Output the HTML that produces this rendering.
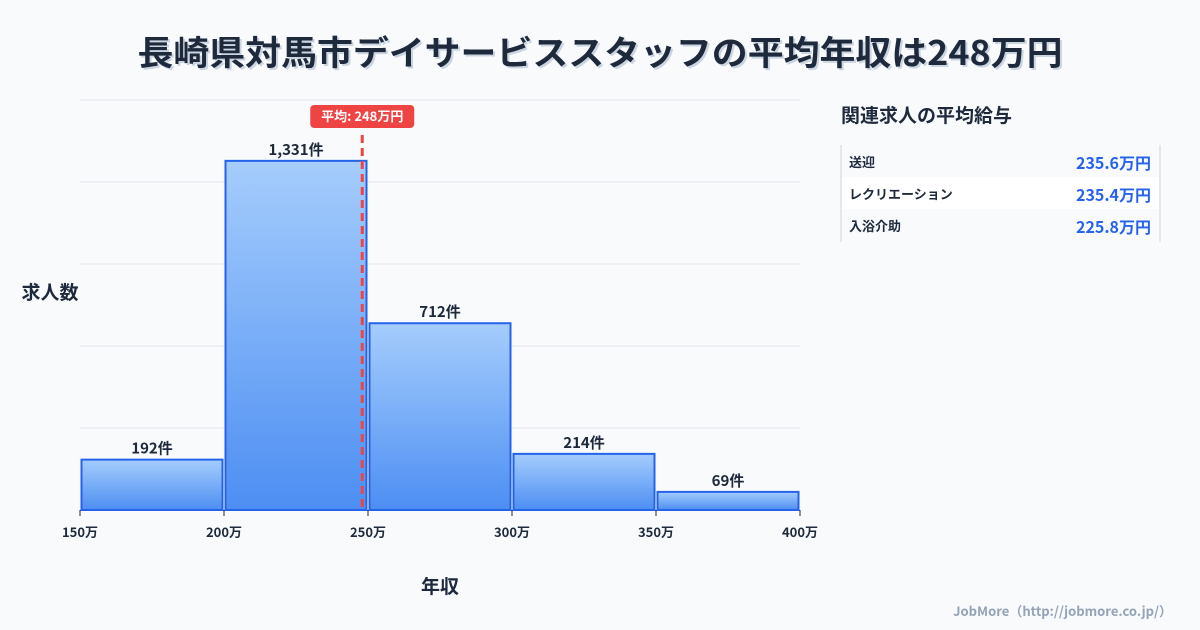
<!DOCTYPE html>
<html><head><meta charset="utf-8"><style>
body{margin:0;background:#f8fafc;font-family:"Noto Sans CJK JP","Liberation Sans",sans-serif;}
</style></head><body>
<svg width="1200" height="630" viewBox="0 0 1200 630" xmlns="http://www.w3.org/2000/svg" style="display:block;font-family:'Noto Sans CJK JP','Liberation Sans',sans-serif">
<defs><linearGradient id="g" x1="0" y1="0" x2="0" y2="1"><stop offset="0" stop-color="#a5cdfc"/><stop offset="1" stop-color="#4d8ef3"/></linearGradient></defs>
<rect width="1200" height="630" fill="#f8fafc"/>
<text x="602" y="67" text-anchor="middle" font-size="34" font-weight="bold" fill="#cbd5e1" textLength="925" lengthAdjust="spacingAndGlyphs">長崎県対馬市デイサービススタッフの平均年収は248万円</text>
<text x="600" y="65" text-anchor="middle" font-size="34" font-weight="bold" fill="#1e293b" textLength="925" lengthAdjust="spacingAndGlyphs">長崎県対馬市デイサービススタッフの平均年収は248万円</text>
<g id="grid"></g><g id="bars"></g><g id="xt"></g>
<text x="50" y="299" text-anchor="middle" font-size="19" font-weight="bold" fill="#1e293b">求人数</text>
<text x="440" y="593" text-anchor="middle" font-size="19" font-weight="bold" fill="#1e293b">年収</text>
<g id="avg"></g>
<text x="841" y="122" font-size="19" font-weight="bold" fill="#1e293b">関連求人の平均給与</text>
<g id="side"></g>
<text x="1172" y="616" text-anchor="end" font-size="13" font-weight="bold" fill="#94a3b8">JobMore（http://jobmore.co.jp/）</text>
</svg>
<script>
const binStarts=[150,200,250,300,350];
const counts=[192,1331,712,214,69];
const xTicks=[150,200,250,300,350,400];
const avgValue=248;
const sideLabels=["送迎","レクリエーション","入浴介助"];
const sideValues=["235.6万円","235.4万円","225.8万円"];
const NS="http://www.w3.org/2000/svg";
const X=v=>80+(v-150)*720/250;
const yMax=1563;
const Y=v=>510-v*410/yMax;
function mk(t,a,p,txt){const e=document.createElementNS(NS,t);for(const k in a)e.setAttribute(k,a[k]);if(txt!=null)e.textContent=txt;p.appendChild(e);return e;}
const grid=document.getElementById('grid');
for(let i=0;i<=5;i++){const y=510-i*82;const l=mk('line',{x1:80,x2:800,y1:y,y2:y,stroke:'#e2e8f0','stroke-width':1},grid);

}
const bars=document.getElementById('bars');
binStarts.forEach((s,i)=>{const x0=X(s),x1=X(s+50),y=Y(counts[i]);
const r=mk('rect',{x:x0+1.5,y:y,width:x1-x0-3,height:510-y,fill:'url(#g)',stroke:'#2563eb','stroke-width':2},bars);


const t=mk('text',{x:(x0+x1)/2,y:y-6,'text-anchor':'middle','font-size':15,'font-weight':'bold',fill:'#1e293b'},bars,counts[i].toLocaleString()+'件');

});
const xt=document.getElementById('xt');
xTicks.forEach(v=>{const x=X(v);mk('line',{x1:x,x2:x,y1:510,y2:516,stroke:'#1e293b'},xt);
const t=mk('text',{x:x,y:537,'text-anchor':'middle','font-size':13,'font-weight':'bold',fill:'#1e293b'},xt,v+'万');

});
const avg=document.getElementById('avg');const ax=X(avgValue);
const al=mk('line',{x1:ax,x2:ax,y1:135,y2:510,stroke:'#ef4444','stroke-width':3,'stroke-dasharray':'8,5'},avg);


const ab=mk('rect',{x:ax-52,y:105,width:104,height:23,rx:4,fill:'#ef4444'},avg);


const at=mk('text',{x:ax,y:121,'text-anchor':'middle','font-size':13,'font-weight':'bold',fill:'#fff'},avg,'平均: '+avgValue+'万円');


const side=document.getElementById('side');
sideLabels.forEach((lb,i)=>{const y=145+i*32;
const r=mk('rect',{x:842,y:y,width:317,height:32,fill:i%2?'#ffffff':'#f8fafc'},side);


const a=mk('text',{x:849,y:y+22,'font-size':13,'font-weight':'bold',fill:'#1e293b'},side,lb);


const b=mk('text',{x:1151,y:y+24,'text-anchor':'end','font-size':16,'font-weight':'bold',fill:'#2563eb'},side,sideValues[i]);

});
mk('line',{x1:841,x2:841,y1:145,y2:242,stroke:'#cbd5e1'},side);
mk('line',{x1:1160,x2:1160,y1:145,y2:242,stroke:'#cbd5e1'},side);
</script>
</body></html>
